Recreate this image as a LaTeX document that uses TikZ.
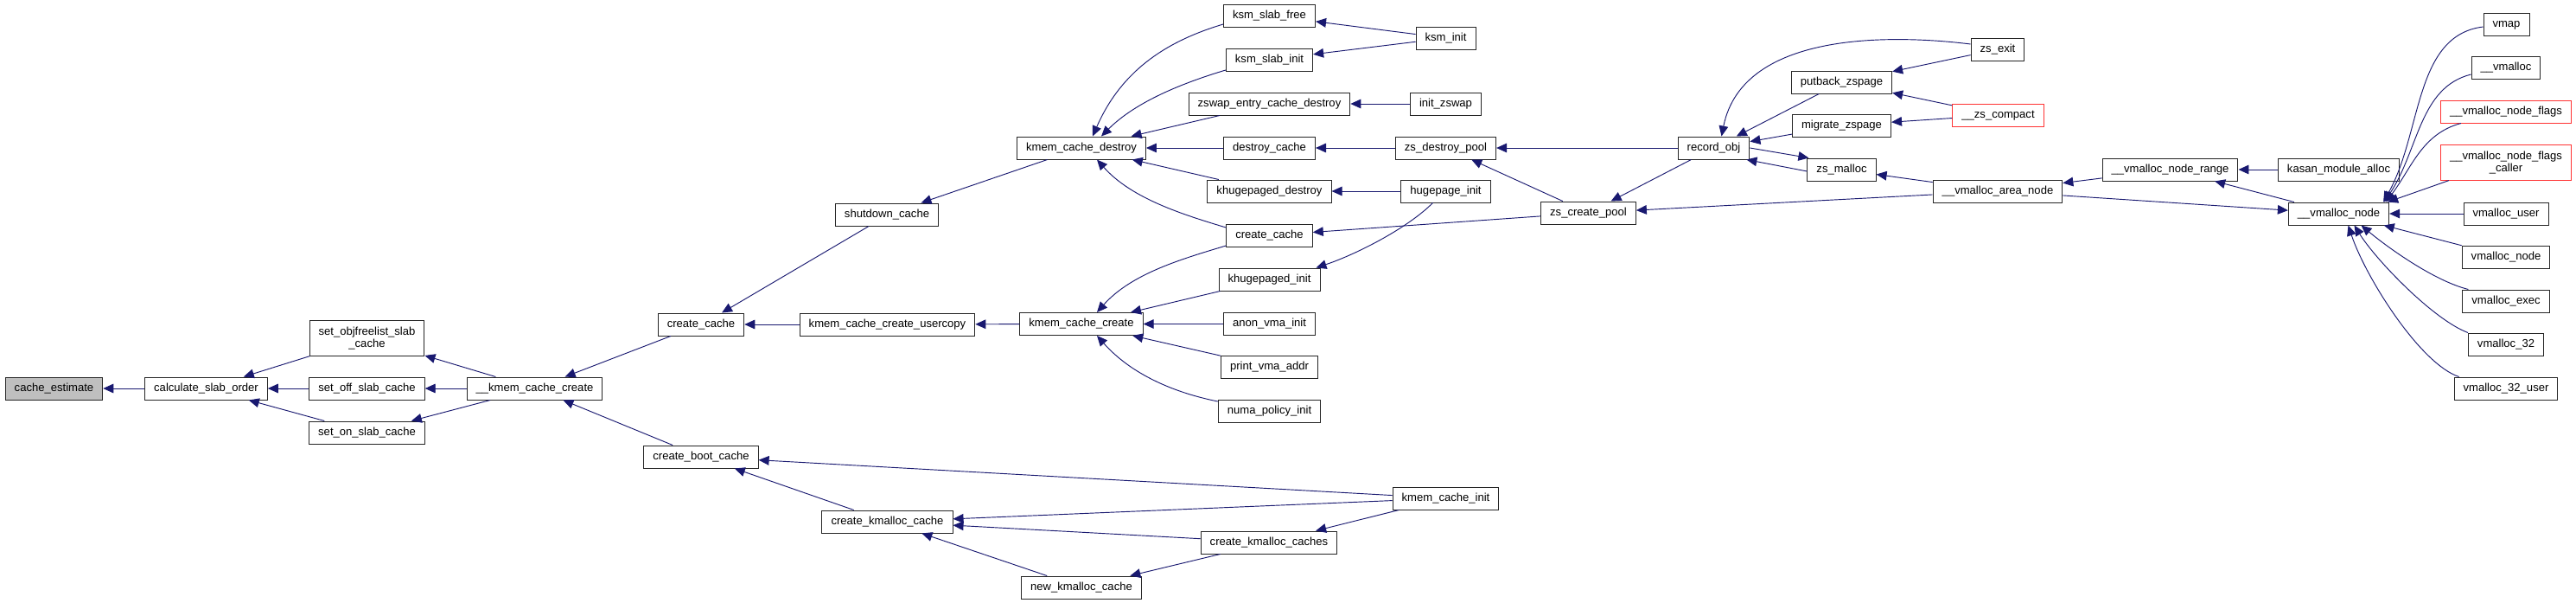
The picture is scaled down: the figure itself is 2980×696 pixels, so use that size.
\documentclass[tikz,border=0pt]{standalone}
\usepackage{fontspec}
\setmainfont{Liberation Sans}
\usetikzlibrary{arrows.meta,calc}
\definecolor{edgeblue}{HTML}{191970}
\definecolor{boxred}{HTML}{FF3333}
\tikzset{
  fnbox/.style={draw=black!85, line width=0.75pt, fill=white, inner xsep=7.9pt,
    inner ysep=4.6pt, minimum height=19.5pt, font=\fontsize{9.8}{10.5}\selectfont},
  fn/.style={fnbox, text height=7.2pt, text depth=2.4pt},
  fntwo/.style={fnbox, align=center, inner ysep=5.3pt},
  focus/.style={fill=black!25},
  trunc/.style={draw=boxred},
  call/.style={draw=edgeblue, line width=0.7pt, {Triangle[length=9pt,width=8pt]}-}
}
\begin{document}
\begin{tikzpicture}[x=0.75pt,y=0.75pt]
 \useasboundingbox (0,0) rectangle (2980,-696);
 \node[fn, focus] (est) at (62.5,-449) {cache\_estimate};
 \node[fn] (order) at (238.5,-449) {calculate\_slab\_order};
 \node[fntwo] (objfree) at (424.5,-391) {set\_objfreelist\_slab\\\_cache};
 \node[fn] (offslab) at (424.5,-449) {set\_off\_slab\_cache};
 \node[fn] (onslab) at (424.5,-500) {set\_on\_slab\_cache};
 \node[fn] (kcreateint) at (618.5,-449) {\_\_kmem\_cache\_create};
 \node[fn] (ccache) at (811,-375) {create\_cache};
 \node[fn] (shutdown) at (1026,-248) {shutdown\_cache};
 \node[fn] (bootcache) at (811,-528) {create\_boot\_cache};
 \node[fn] (usercopy) at (1026.5,-375) {kmem\_cache\_create\_usercopy};
 \node[fn] (kmcache) at (1026.5,-603) {create\_kmalloc\_cache};
 \node[fn] (kdestroy) at (1251,-171) {kmem\_cache\_destroy};
 \node[fn] (kcreate) at (1251,-374.5) {kmem\_cache\_create};
 \node[fn] (newkm) at (1251,-679) {new\_kmalloc\_cache};
 \node[fn] (ksmfree) at (1468.5,-18) {ksm\_slab\_free};
 \node[fn] (ksmslabinit) at (1468.5,-69) {ksm\_slab\_init};
 \node[fn] (zswapd) at (1468.5,-120) {zswap\_entry\_cache\_destroy};
 \node[fn] (destroyc) at (1468.5,-171) {destroy\_cache};
 \node[fn] (khdestroy) at (1468.5,-221) {khugepaged\_destroy};
 \node[fn] (ccacheb) at (1468.5,-272) {create\_cache};
 \node[fn] (khinit) at (1468.5,-323) {khugepaged\_init};
 \node[fn] (anonvma) at (1468.5,-374.5) {anon\_vma\_init};
 \node[fn] (printvma) at (1468.5,-424) {print\_vma\_addr};
 \node[fn] (numa) at (1468.5,-475) {numa\_policy\_init};
 \node[fn] (kmcaches) at (1468,-627) {create\_kmalloc\_caches};
 \node[fn] (ksminit) at (1672.5,-44) {ksm\_init};
 \node[fn] (initzswap) at (1672.5,-120) {init\_zswap};
 \node[fn] (zsdestroy) at (1672.5,-171) {zs\_destroy\_pool};
 \node[fn] (hugeinit) at (1672.5,-221) {hugepage\_init};
 \node[fn] (kcinit) at (1672.5,-576) {kmem\_cache\_init};
 \node[fn] (zscreate) at (1837.5,-246) {zs\_create\_pool};
 \node[fn] (recordobj) at (1982.5,-171) {record\_obj};
 \node[fn] (putback) at (2130.5,-95) {putback\_zspage};
 \node[fn] (migrate) at (2130.5,-145) {migrate\_zspage};
 \node[fn] (zsmalloc) at (2130.5,-196) {zs\_malloc};
 \node[fn] (zsexit) at (2311,-57) {zs\_exit};
 \node[fn, trunc] (zscompact) at (2311.5,-133) {\_\_zs\_compact};
 \node[fn] (vmarea) at (2311,-221) {\_\_vmalloc\_area\_node};
 \node[fn] (vmrange) at (2510.5,-196) {\_\_vmalloc\_node\_range};
 \node[fn] (kasan) at (2705.5,-196) {kasan\_module\_alloc};
 \node[fn] (vmnode) at (2705.5,-247) {\_\_vmalloc\_node};
 \node[fn] (vmap) at (2899.5,-28) {vmap};
 \node[fn] (vmalloc) at (2899,-78) {\_\_vmalloc};
 \node[fn, trunc] (vmflags) at (2899,-129) {\_\_vmalloc\_node\_flags};
 \node[fntwo, trunc] (vmcaller) at (2899,-188) {\_\_vmalloc\_node\_flags\\\_caller};
 \node[fn] (vmuser) at (2899,-247) {vmalloc\_user};
 \node[fn] (vmnodex) at (2899,-297) {vmalloc\_node};
 \node[fn] (vmexec) at (2899,-348) {vmalloc\_exec};
 \node[fn] (vm32) at (2899,-398) {vmalloc\_32};
 \node[fn] (vm32user) at (2899,-449) {vmalloc\_32\_user};

 \draw[call] (est) -- (order);
 \draw[call] (order) -- (objfree);
 \draw[call] (order) -- (offslab);
 \draw[call] (order) -- (onslab);
 \draw[call] (objfree) -- (kcreateint);
 \draw[call] (offslab) -- (kcreateint);
 \draw[call] (onslab) -- (kcreateint);
 \draw[call] (kcreateint) -- (ccache);
 \draw[call] (kcreateint) -- (bootcache);
 \draw[call] ($(ccache.north)+(24,0)$) -- ($(shutdown.south)+(-21,0)$);
 \draw[call] (ccache) -- (usercopy);
 \draw[call] (shutdown) -- (kdestroy);
 \draw[call] (usercopy) -- (kcreate);
 \draw[call] ($(kdestroy.north)+(13,0)$) .. controls +(35,80) and +(-60,-18) .. ($(ksmfree.west)+(0,-10)$);
 \draw[call] ($(kdestroy.north)+(23,0)$) .. controls +(40,40) and +(-50,-15) .. ($(ksmslabinit.west)+(0,-12)$);
 \draw[call] (kdestroy) -- (zswapd);
 \draw[call] (kdestroy) -- (destroyc);
 \draw[call] (kdestroy) -- (khdestroy);
 \draw[call] ($(kdestroy.south)+(18,0)$) .. controls +(40,-45) and +(-50,15) .. ($(ccacheb.west)+(0,9)$);
 \draw[call] ($(kcreate.north)+(18,0)$) .. controls +(40,45) and +(-50,-15) .. ($(ccacheb.west)+(0,-12)$);
 \draw[call] (kcreate) -- (khinit);
 \draw[call] (kcreate) -- (anonvma);
 \draw[call] (kcreate) -- (printvma);
 \draw[call] ($(kcreate.south)+(18,0)$) .. controls +(40,-45) and +(-50,10) .. ($(numa.west)+(0,11)$);
 \draw[call] (bootcache) -- (kmcache);
 \draw[call] (bootcache) -- (kcinit);
 \draw[call] (kmcache) -- (kcinit);
 \draw[call] (kmcache) -- (kmcaches);
 \draw[call] (kmcache) -- (newkm);
 \draw[call] (newkm) -- (kmcaches);
 \draw[call] (kmcaches) -- (kcinit);
 \draw[call] (ksmfree) -- (ksminit);
 \draw[call] (ksmslabinit) -- (ksminit);
 \draw[call] (zswapd) -- (initzswap);
 \draw[call] (destroyc) -- (zsdestroy);
 \draw[call] (khdestroy) -- (hugeinit);
 \draw[call] ($(khinit.north east)+(-5,0)$) .. controls +(45,15) and +(-30,-30) .. ($(hugeinit.south)+(-15,0)$);
 \draw[call] (ccacheb) -- (zscreate);
 \draw[call] (zsdestroy) -- (recordobj);
 \draw[call] (zsdestroy) -- (zscreate);
 \draw[call] (zscreate) -- (recordobj);
 \draw[call] (zscreate) -- (vmarea);
 \draw[call] ($(recordobj.north)+(9,0)$) .. controls +(25,125) and +(-80,10) .. ($(zsexit.west)+(0,6)$);
 \draw[call] (recordobj) -- (putback);
 \draw[call] (recordobj) -- (migrate);
 \draw[call] ($(zsmalloc.north west)+(2,0)$) -- (recordobj.east);
 \draw[call] ($(recordobj.south east)+(-4,0)$) -- ($(zsmalloc.west)+(0,-2)$);
 \draw[call] (putback) -- (zsexit);
 \draw[call] (putback) -- (zscompact);
 \draw[call] (migrate) -- (zscompact);
 \draw[call] (zsmalloc) -- (vmarea);
 \draw[call] (vmarea) -- (vmrange);
 \draw[call] (vmnode) -- (vmarea);
 \draw[call] (vmrange) -- (kasan);
 \draw[call] (vmrange) -- (vmnode);
 \draw[call] ($(vmnode.north east)+(-7,0)$) .. controls +(45,80) and +(-80,-10) .. ($(vmap.west)+(0,-3)$);
 \draw[call] ($(vmnode.north east)+(-6,0)$) .. controls +(40,60) and +(-60,-15) .. ($(vmalloc.west)+(0,-8)$);
 \draw[call] ($(vmnode.north east)+(-4,0)$) .. controls +(30,40) and +(-45,-12) .. ($(vmflags.south west)+(24,0)$);
 \draw[call] ($(vmnode.north east)+(-2,0)$) -- ($(vmcaller.south west)+(10,0)$);
 \draw[call] (vmnode) -- (vmuser);
 \draw[call] (vmnode) -- (vmnodex);
 \draw[call] ($(vmnode.south)+(26,0)$) .. controls +(30,-25) and +(-40,10) .. ($(vmexec.north west)+(7,0)$);
 \draw[call] ($(vmnode.south)+(18,0)$) .. controls +(25,-40) and +(-40,15) .. (vm32.north west);
 \draw[call] ($(vmnode.south)+(11,0)$) .. controls +(20,-60) and +(-45,15) .. ($(vm32user.north west)+(6,0)$);
\end{tikzpicture}
\end{document}
